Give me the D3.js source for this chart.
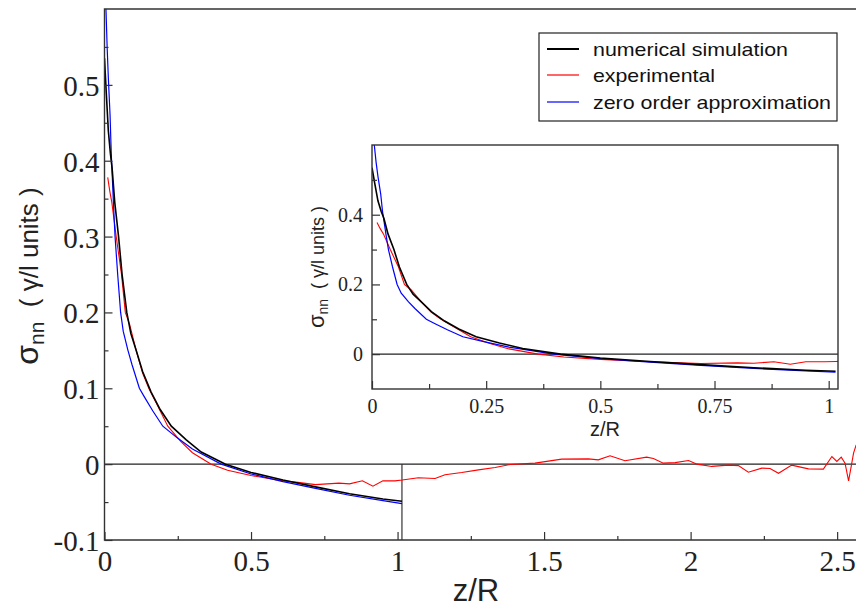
<!DOCTYPE html>
<html>
<head>
<meta charset="utf-8">
<script src="https://cdn.jsdelivr.net/npm/d3@7"></script>
<style>
  body { margin: 0; background: #fff; }
  svg { display: block; }
  .domain { display: none; }
  .tick line { stroke: #333; stroke-width: 1.2; }
</style>
</head>
<body>
<main></main>
<script>
// data: z/R and sigma_nn for each curve
const simZ = [0, 0.006, 0.013, 0.02, 0.026, 0.035, 0.048, 0.06, 0.076, 0.09, 0.108, 0.13, 0.159, 0.19, 0.228, 0.279, 0.33, 0.413, 0.5, 0.609, 0.72, 0.836, 0.95, 1.015];
const simS = [0.535, 0.49, 0.44, 0.41, 0.39, 0.345, 0.3, 0.25, 0.2, 0.172, 0.15, 0.122, 0.095, 0.072, 0.05, 0.032, 0.016, 0, -0.011, -0.021, -0.03, -0.039, -0.046, -0.049];

const expZ = [0.011, 0.018, 0.025, 0.04, 0.058, 0.071, 0.086, 0.108, 0.13, 0.151, 0.18, 0.216, 0.26, 0.3, 0.364, 0.42, 0.5, 0.609, 0.66, 0.72, 0.8, 0.836, 0.88, 0.916, 0.95, 0.991,
  1.016, 1.071, 1.128, 1.162, 1.219, 1.276, 1.333, 1.384, 1.469, 1.56, 1.651, 1.685, 1.725, 1.776, 1.85, 1.873, 1.907, 1.947, 1.993, 2.022, 2.072, 2.129, 2.163, 2.197, 2.243, 2.271, 2.3, 2.345, 2.402, 2.453, 2.482, 2.499, 2.514, 2.527, 2.539, 2.548, 2.556, 2.565];
const expS = [0.378, 0.36, 0.345, 0.3, 0.25, 0.2, 0.184, 0.15, 0.12, 0.1, 0.078, 0.05, 0.03, 0.015, 0, -0.008, -0.015, -0.022, -0.024, -0.027, -0.025, -0.026, -0.022, -0.029, -0.022, -0.022,
  -0.021, -0.018, -0.019, -0.014, -0.011, -0.0075, -0.0045, -0.0005, 0.0013, 0.0066, 0.007, 0.0057, 0.011, 0.0044, 0.0092, 0.0074, 0.0013, 0.002, 0.0048, 0, -0.003, -0.0013, -0.002, -0.0106, -0.0053, -0.0058, -0.012, -0.0013, -0.0062, -0.0066, 0.01, 0.0035, 0.0092, 0.0013, -0.022, -0.003, 0.0145, 0.0255];

const zeroZ = [0.003, 0.005, 0.009, 0.013, 0.019, 0.023, 0.031, 0.036, 0.045, 0.055, 0.064, 0.08, 0.094, 0.119, 0.137, 0.165, 0.199, 0.247, 0.3, 0.398, 0.5, 0.609, 0.72, 0.836, 0.95, 1.015];
const zeroS = [0.66, 0.6, 0.55, 0.51, 0.46, 0.41, 0.34, 0.3, 0.25, 0.2, 0.175, 0.15, 0.131, 0.1, 0.088, 0.07, 0.05, 0.035, 0.02, 0, -0.013, -0.023, -0.032, -0.041, -0.048, -0.052];

const seriesNames = ["numerical simulation", "experimental", "zero order approximation"];
const seriesColors = ["#000000", "#ff0000", "#0000ff"];

// main axis ticks
const mainXMajor = [0, 0.5, 1, 1.5, 2, 2.5];
const mainXMinor = [0.25, 0.75, 1.25, 1.75, 2.25];
const mainYMajor = [-0.1, 0, 0.1, 0.2, 0.3, 0.4, 0.5];
const mainYMinor = [-0.05, 0.05, 0.15, 0.25, 0.35, 0.45, 0.55];
// inset axis ticks
const insetXMajor = [0, 0.25, 0.5, 0.75, 1];
const insetXMinor = [0.125, 0.375, 0.625, 0.875];
const insetYMajor = [0, 0.2, 0.4];
const insetYMinor = [0.1, 0.3, 0.5];

const series = [
  d3.zip(simZ, simS),
  d3.zip(expZ, expS),
  d3.zip(zeroZ, zeroS),
];
const lineWidths = [1.6, 1.1, 1.2];
const fmt = (d) => String(+d.toFixed(3));
const serif = "'Liberation Serif', 'DejaVu Serif', serif";
const sans = "'Liberation Sans', Arial, sans-serif";

// style the tick labels of an axis group
function tickText(g, size) {
  g.selectAll(".tick text")
    .style("font-family", serif)
    .style("font-size", size + "px")
    .attr("fill", "#222");
}

const svg = d3.select("main").append("svg").attr("width", 856).attr("height", 607);

// ---------- main plot ----------
const m = { left: 104.5, top: 9, right: 860, bottom: 540 };
const x = d3.scaleLinear().domain([0, 2.578]).range([m.left, m.right]);
const y = d3.scaleLinear().domain([-0.1, 0.6]).range([m.bottom, m.top]);

svg.append("clipPath").attr("id", "clipMain")
  .append("rect").attr("x", m.left).attr("y", m.top)
  .attr("width", m.right - m.left).attr("height", m.bottom - m.top);

// zero line and the drop line at the end of the computed curves
svg.append("line")
  .attr("x1", m.left).attr("x2", m.right).attr("y1", y(0)).attr("y2", y(0))
  .attr("stroke", "#222").attr("stroke-width", 1.1);
svg.append("line")
  .attr("x1", x(1.015)).attr("x2", x(1.015)).attr("y1", y(0)).attr("y2", y(-0.1))
  .attr("stroke", "#222").attr("stroke-width", 1.1);

const mainLine = d3.line().x((d) => x(d[0])).y((d) => y(d[1]));
const mainG = svg.append("g").attr("clip-path", "url(#clipMain)");
[1, 2, 0].forEach((i) => {
  mainG.append("path")
    .attr("d", mainLine(series[i]))
    .attr("fill", "none")
    .attr("stroke", seriesColors[i])
    .attr("stroke-width", lineWidths[i]);
});

// axes, ticks inward
svg.append("g").attr("transform", `translate(0,${m.bottom})`)
  .call(d3.axisBottom(x).tickValues(mainXMajor).tickSize(-8).tickPadding(10).tickFormat(fmt))
  .call(tickText, 29);
svg.append("g").attr("transform", `translate(0,${m.bottom})`)
  .call(d3.axisBottom(x).tickValues(mainXMinor).tickSize(-4).tickFormat(""));
svg.append("g").attr("transform", `translate(${m.left},0)`)
  .call(d3.axisLeft(y).tickValues(mainYMajor).tickSize(-8).tickPadding(5).tickFormat(fmt))
  .call(tickText, 29)
  .selectAll(".tick text").attr("dy", "0.36em");
svg.append("g").attr("transform", `translate(${m.left},0)`)
  .call(d3.axisLeft(y).tickValues(mainYMinor).tickSize(-4).tickFormat(""));

// frame lines (left, top, bottom)
svg.append("path")
  .attr("d", `M${m.right},${m.top}H${m.left}V${m.bottom}H${m.right}`)
  .attr("fill", "none").attr("stroke", "#333").attr("stroke-width", 1.4);

// axis titles
svg.append("text")
  .attr("x", 476).attr("y", 601)
  .attr("text-anchor", "middle")
  .style("font-family", sans)
  .style("font-size", "31px").attr("fill", "#222")
  .text("z/R");

function sigmaLabel(g, big, sub, rest) {
  g.append("tspan").style("font-size", big + "px").text("σ");
  g.append("tspan").style("font-size", sub + "px").attr("dy", sub * 0.3).text("nn");
  g.append("tspan").style("font-size", rest + "px").attr("dy", -sub * 0.3).text("\u00a0\u00a0( γ/l units )");
}
const yTitle = svg.append("text")
  .attr("transform", "translate(38,276) rotate(-90)")
  .attr("text-anchor", "middle")
  .style("font-family", sans)
  .attr("fill", "#222");
sigmaLabel(yTitle, 32, 21, 26);

// ---------- legend ----------
const legend = svg.append("g").attr("transform", "translate(539,33)");
legend.append("rect").attr("width", 298).attr("height", 88)
  .attr("fill", "#fff").attr("stroke", "#222").attr("stroke-width", 1.2);
const legendRowY = [16, 42, 69];
const legendTextW = [195, 122, 238];
seriesNames.forEach((name, i) => {
  legend.append("line")
    .attr("x1", 8).attr("x2", 40).attr("y1", legendRowY[i]).attr("y2", legendRowY[i])
    .attr("stroke", seriesColors[i]).attr("stroke-width", i === 0 ? 2 : 1.2);
  legend.append("text")
    .attr("x", 54).attr("y", legendRowY[i] + 7)
    .attr("textLength", legendTextW[i]).attr("lengthAdjust", "spacingAndGlyphs")
    .style("font-family", sans)
    .style("font-size", "19px").attr("fill", "#111")
    .text(name);
});

// ---------- inset ----------
const ins = { left: 372, top: 145, right: 838, bottom: 389 };
const xi = d3.scaleLinear().domain([0, 1.0204]).range([ins.left, ins.right]);
const yi = d3.scaleLinear().domain([-0.1, 0.6]).range([ins.bottom, ins.top]);

svg.append("rect")
  .attr("x", ins.left).attr("y", ins.top)
  .attr("width", ins.right - ins.left).attr("height", ins.bottom - ins.top)
  .attr("fill", "#fff");
svg.append("clipPath").attr("id", "clipInset")
  .append("rect").attr("x", ins.left).attr("y", ins.top)
  .attr("width", ins.right - ins.left).attr("height", ins.bottom - ins.top);

svg.append("line")
  .attr("x1", ins.left).attr("x2", ins.right).attr("y1", yi(0)).attr("y2", yi(0))
  .attr("stroke", "#222").attr("stroke-width", 1.1);

const insetLine = d3.line().x((d) => xi(d[0])).y((d) => yi(d[1]));
const insetG = svg.append("g").attr("clip-path", "url(#clipInset)");
[1, 2, 0].forEach((i) => {
  insetG.append("path")
    .attr("d", insetLine(series[i]))
    .attr("fill", "none")
    .attr("stroke", seriesColors[i])
    .attr("stroke-width", lineWidths[i]);
});

svg.append("g").attr("transform", `translate(0,${ins.bottom})`)
  .call(d3.axisBottom(xi).tickValues(insetXMajor).tickSize(-8).tickPadding(10).tickFormat(fmt))
  .call(tickText, 20);
svg.append("g").attr("transform", `translate(0,${ins.bottom})`)
  .call(d3.axisBottom(xi).tickValues(insetXMinor).tickSize(-5).tickFormat(""));
svg.append("g").attr("transform", `translate(${ins.left},0)`)
  .call(d3.axisLeft(yi).tickValues(insetYMajor).tickSize(-8).tickPadding(9).tickFormat(fmt))
  .call(tickText, 20);
svg.append("g").attr("transform", `translate(${ins.left},0)`)
  .call(d3.axisLeft(yi).tickValues(insetYMinor).tickSize(-5).tickFormat(""));

svg.append("rect")
  .attr("x", ins.left).attr("y", ins.top)
  .attr("width", ins.right - ins.left).attr("height", ins.bottom - ins.top)
  .attr("fill", "none").attr("stroke", "#333").attr("stroke-width", 1.4);

svg.append("text")
  .attr("x", 605).attr("y", 436)
  .attr("text-anchor", "middle")
  .style("font-family", sans)
  .style("font-size", "20px").attr("fill", "#222")
  .text("z/R");

const yiTitle = svg.append("text")
  .attr("transform", "translate(324,267) rotate(-90)")
  .attr("text-anchor", "middle")
  .style("font-family", sans)
  .attr("fill", "#222");
sigmaLabel(yiTitle, 22, 14, 18);
</script>
</body>
</html>
